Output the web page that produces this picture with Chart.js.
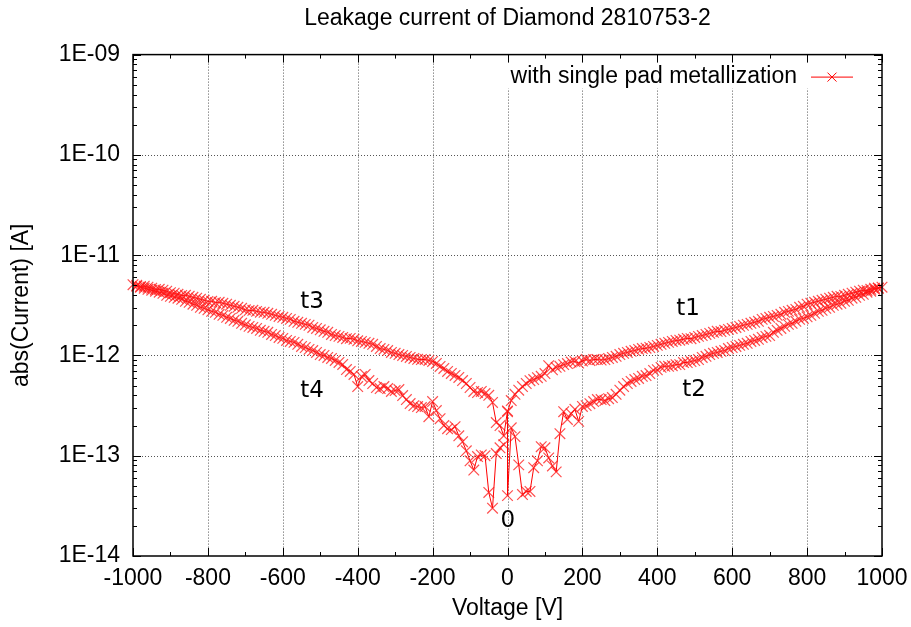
<!DOCTYPE html>
<html>
<head>
<meta charset="utf-8">
<script src="https://cdn.jsdelivr.net/npm/chart.js@4/dist/chart.umd.min.js"></script>
<style>
html,body{margin:0;padding:0;background:#fff;}
#wrap{width:911px;height:627px;}
</style>
</head>
<body>
<div id="wrap"><canvas id="c" width="911" height="627"></canvas></div>
<script>
// ---------------- DATA ----------------
const chartTitle = 'Leakage current of Diamond 2810753-2';
const xTitle = 'Voltage [V]';
const yTitle = 'abs(Current) [A]';
const seriesLabel = 'with single pad metallization';

// magnitude of the bias set points [V]
const voltageSteps = [0,10,20,30,40,50,60,70,80,90,
  100,110,120,130,140,150,160,170,180,190,
  200,210,220,230,240,250,260,270,280,290,
  300,310,320,330,340,350,360,370,380,390,
  400,410,420,430,440,450,460,470,480,490,
  500,510,520,530,540,550,560,570,580,590,
  600,610,620,630,640,650,660,670,680,690,
  700,710,720,730,740,750,760,770,780,790,
  800,810,820,830,840,850,860,870,880,890,
  900,910,920,930,940,950,960,970,980,990,
  1000];

// t1: 0 -> +1000 V, current in pA at +voltageSteps
const t1CurrentPA = [0.275,0.355,0.41,0.45,0.49,0.525,0.56,0.575,0.60,0.62,
  0.66,0.79,0.72,0.76,0.78,0.81,0.83,0.86,0.87,0.84,
  0.88,0.91,0.89,0.91,0.91,0.90,0.91,0.93,0.955,0.98,
  1.02,1.05,1.07,1.10,1.12,1.15,1.17,1.18,1.20,1.23,
  1.26,1.29,1.32,1.35,1.38,1.41,1.42,1.45,1.48,1.47,
  1.51,1.55,1.58,1.62,1.66,1.70,1.74,1.73,1.78,1.82,
  1.86,1.90,1.95,2.00,2.04,2.09,2.14,2.19,2.29,2.34,
  2.40,2.45,2.51,2.57,2.69,2.75,2.82,2.88,3.02,3.09,
  3.24,3.31,3.39,3.47,3.55,3.63,3.72,3.80,3.89,3.88,
  3.98,4.07,4.17,4.27,4.37,4.47,4.45,4.57,4.68,4.70,
  4.79];

// t2: +990 -> 0 V (listed by ascending voltage), current in pA
const t2CurrentPA = [0.040,0.19,0.155,0.081,0.041,0.044,0.044,0.076,0.089,0.123,
  0.12,0.095,0.079,0.069,0.166,0.275,0.23,0.263,0.29,0.22,
  0.31,0.316,0.33,0.347,0.363,0.363,0.355,0.37,0.38,0.41,
  0.45,0.49,0.525,0.55,0.575,0.59,0.62,0.63,0.66,0.71,
  0.72,0.76,0.78,0.78,0.79,0.81,0.81,0.85,0.85,0.87,
  0.89,0.91,0.955,0.98,1.02,1.05,1.07,1.10,1.12,1.17,
  1.20,1.23,1.26,1.29,1.32,1.38,1.41,1.45,1.51,1.55,
  1.58,1.70,1.78,1.86,1.95,2.04,2.09,2.19,2.29,2.34,
  2.43,2.51,2.63,2.75,2.82,2.95,3.02,3.16,3.24,3.31,
  3.47,3.55,3.72,3.80,3.98,4.07,4.27,4.37,4.57,4.68,
  null];

// t3: 0 -> -1000 V, current in pA at -voltageSteps
const t3CurrentPA = [0.28,0.158,0.20,0.214,0.34,0.40,0.417,0.437,0.427,0.437,
  0.479,0.525,0.562,0.603,0.631,0.661,0.692,0.741,0.776,0.832,
  0.871,0.891,0.912,0.91,0.915,0.933,0.955,0.977,1.00,1.02,
  1.05,1.07,1.12,1.15,1.17,1.23,1.29,1.32,1.35,1.38,
  1.40,1.45,1.48,1.47,1.51,1.55,1.58,1.62,1.70,1.74,
  1.80,1.86,1.90,2.00,2.04,2.09,2.14,2.19,2.29,2.34,
  2.40,2.45,2.51,2.57,2.63,2.69,2.70,2.75,2.82,2.80,
  2.85,2.95,3.02,3.09,3.16,3.24,3.31,3.39,3.37,3.47,
  3.46,3.55,3.63,3.72,3.80,3.89,3.98,3.96,4.07,4.17,
  4.22,4.37,4.47,4.57,4.55,4.68,4.79,4.90,4.88,5.01,
  5.07];

// t4: -990 -> -10 V (listed by ascending |V|), current in pA
const t4CurrentPA = [null,0.129,0.12,0.105,0.030,0.043,0.10,0.102,0.098,0.072,
  0.089,0.112,0.138,0.158,0.195,0.182,0.186,0.20,0.234,0.282,
  0.347,0.245,0.309,0.302,0.309,0.316,0.331,0.363,0.398,0.457,
  0.447,0.437,0.468,0.49,0.468,0.479,0.525,0.562,0.646,0.617,
  0.49,0.646,0.692,0.724,0.813,0.851,0.891,0.933,0.955,1.00,
  1.02,1.07,1.12,1.15,1.20,1.23,1.29,1.35,1.38,1.41,
  1.48,1.51,1.58,1.62,1.70,1.74,1.78,1.86,1.90,1.95,
  2.02,2.09,2.19,2.24,2.34,2.40,2.51,2.57,2.69,2.75,
  2.85,2.95,3.02,3.16,3.24,3.39,3.47,3.63,3.72,3.80,
  3.89,3.98,4.17,4.27,4.37,4.47,4.57,4.68,4.79,4.90,
  null];

const xTickValues = [-1000,-800,-600,-400,-200,0,200,400,600,800,1000];
const xTickLabels = ['-1000','-800','-600','-400','-200','0','200','400','600','800','1000'];
const xMinorTickValues = [-900,-700,-500,-300,-100,100,300,500,700,900];
const yTickValues = [1e-14,1e-13,1e-12,1e-11,1e-10,1e-9];
const yTickLabels = ['1E-14','1E-13','1E-12','1E-11','1E-10','1E-09'];

const annotationTexts = ['t1','t2','t3','t4','0'];
const annotationV = [482, 498, -522, -522, 1];
const annotationI = [2.92e-12, 4.54e-13, 3.43e-12, 4.43e-13, 2.24e-14];

// ---------------- BUILD (measurement order) ----------------
const PA = 1e-12;
const points = [];
function push(v, pa){ if (pa !== null && pa !== undefined) points.push({x: v, y: pa * PA}); }
for (let i = 0; i < voltageSteps.length; i++) push(voltageSteps[i], t1CurrentPA[i]);
for (let i = voltageSteps.length - 1; i >= 0; i--) push(voltageSteps[i], t2CurrentPA[i]);
for (let i = 0; i < voltageSteps.length; i++) push(-voltageSteps[i], t3CurrentPA[i]);
for (let i = voltageSteps.length - 1; i >= 0; i--) push(-voltageSteps[i], t4CurrentPA[i]);

const FONT = "'Liberation Sans', Arial, Helvetica, sans-serif";
const RED = '#ff0000';

const yMinorTickValues = [];
for (let k = 0; k < yTickValues.length - 1; k++) {
  for (let m = 2; m <= 9; m++) yMinorTickValues.push(m * yTickValues[k]);
}

function drawCross(ctx, x, y, r) {
  ctx.beginPath();
  ctx.moveTo(x - r, y - r); ctx.lineTo(x + r, y + r);
  ctx.moveTo(x - r, y + r); ctx.lineTo(x + r, y - r);
  ctx.stroke();
}

const decorPlugin = {
  id: 'decor',
  beforeDatasetsDraw(chart) {
    const {ctx, chartArea: a, scales: {x, y}} = chart;
    ctx.save();
    ctx.strokeStyle = '#555';
    ctx.lineWidth = 1;
    ctx.setLineDash([1, 2]);
    xTickValues.forEach(v => {
      if (v <= x.min || v >= x.max) return;
      const px = Math.round(x.getPixelForValue(v)) + 0.5;
      ctx.beginPath(); ctx.moveTo(px, a.top); ctx.lineTo(px, a.bottom); ctx.stroke();
    });
    yTickValues.forEach(v => {
      if (v <= y.min || v >= y.max) return;
      const py = Math.round(y.getPixelForValue(v)) + 0.5;
      ctx.beginPath(); ctx.moveTo(a.left, py); ctx.lineTo(a.right, py); ctx.stroke();
    });
    ctx.setLineDash([]);
    // legend background
    ctx.fillStyle = '#fff';
    ctx.fillRect(a.right - 384, a.top + 2, 378, 32);
    ctx.restore();
  },
  afterDatasetsDraw(chart) {
    const {ctx, chartArea: a, scales: {x, y}} = chart;
    ctx.save();
    // inward tick marks on all four sides
    ctx.strokeStyle = '#000';
    ctx.lineWidth = 1;
    const tickX = (v, len) => {
      const px = Math.round(x.getPixelForValue(v)) + 0.5;
      ctx.beginPath();
      ctx.moveTo(px, a.bottom); ctx.lineTo(px, a.bottom - len);
      ctx.moveTo(px, a.top); ctx.lineTo(px, a.top + len);
      ctx.stroke();
    };
    const tickY = (v, len) => {
      const py = Math.round(y.getPixelForValue(v)) + 0.5;
      ctx.beginPath();
      ctx.moveTo(a.left, py); ctx.lineTo(a.left + len, py);
      ctx.moveTo(a.right, py); ctx.lineTo(a.right - len, py);
      ctx.stroke();
    };
    xTickValues.forEach(v => tickX(v, 8));
    xMinorTickValues.forEach(v => tickX(v, 4));
    yTickValues.forEach(v => tickY(v, 8));
    yMinorTickValues.forEach(v => tickY(v, 4));
    // border
    ctx.lineWidth = 1.5;
    ctx.strokeRect(a.left, a.top, a.right - a.left, a.bottom - a.top);

    // legend
    const ly = a.top + 22;
    ctx.fillStyle = '#000';
    ctx.font = '23px ' + FONT;
    ctx.textAlign = 'right';
    ctx.textBaseline = 'middle';
    ctx.fillText(seriesLabel, a.right - 85, ly);
    ctx.strokeStyle = RED;
    ctx.lineWidth = 1;
    ctx.beginPath(); ctx.moveTo(a.right - 71, ly + 0.5); ctx.lineTo(a.right - 29, ly + 0.5); ctx.stroke();
    drawCross(ctx, a.right - 50, ly + 0.5, 4.5);

    // annotations
    ctx.fillStyle = '#000';
    ctx.font = "23px 'DejaVu Sans', sans-serif";
    ctx.textAlign = 'center';
    ctx.textBaseline = 'middle';
    annotationTexts.forEach((t, i) => {
      ctx.fillText(t, x.getPixelForValue(annotationV[i]), y.getPixelForValue(annotationI[i]));
    });
    ctx.restore();
  }
};

new Chart(document.getElementById('c'), {
  type: 'line',
  data: {
    datasets: [{
      label: seriesLabel,
      data: points,
      borderColor: RED,
      borderWidth: 1,
      pointStyle: 'crossRot',
      pointRadius: 7.5,
      pointBorderColor: 'rgba(255,20,20,0.75)',
      pointBorderWidth: 1.2,
      pointBackgroundColor: 'rgba(0,0,0,0)',
      fill: false,
      tension: 0,
      clip: false
    }]
  },
  options: {
    responsive: false,
    animation: false,
    devicePixelRatio: 1,
    layout: { padding: { left: 0, right: 29, top: 0, bottom: 0 } },
    plugins: {
      legend: { display: false },
      tooltip: { enabled: false },
      title: {
        display: true, text: chartTitle, fullSize: false, color: '#000',
        font: { family: FONT, size: 23, weight: 'normal' },
        padding: { top: 5, bottom: 22 }
      }
    },
    scales: {
      x: {
        type: 'linear', min: -1000, max: 1000,
        afterBuildTicks: s => { s.ticks = xTickValues.map(v => ({ value: v })); },
        afterFit: s => { s.height = 71; s.paddingLeft = 0; s.paddingRight = 0; },
        ticks: {
          callback: (v, i) => xTickLabels[i],
          color: '#000', font: { family: FONT, size: 23 }, padding: 9,
          maxRotation: 0, autoSkip: false
        },
        grid: { display: false, drawTicks: false },
        border: { display: false },
        title: {
          display: true, text: xTitle, color: '#000',
          font: { family: FONT, size: 23 }, padding: { top: 0, bottom: 5 }
        }
      },
      y: {
        type: 'logarithmic', min: 1e-14, max: 1e-9,
        afterBuildTicks: s => { s.ticks = yTickValues.map(v => ({ value: v })); },
        afterFit: s => { s.width = 133; },
        ticks: {
          callback: (v, i) => yTickLabels[i],
          color: '#000', font: { family: FONT, size: 23 }, padding: 13, autoSkip: false
        },
        grid: { display: false, drawTicks: false },
        border: { display: false },
        title: {
          display: true, text: yTitle, color: '#000',
          font: { family: FONT, size: 23 }, padding: { top: 8, bottom: 0 }
        }
      }
    }
  },
  plugins: [decorPlugin]
});
</script>
</body>
</html>
